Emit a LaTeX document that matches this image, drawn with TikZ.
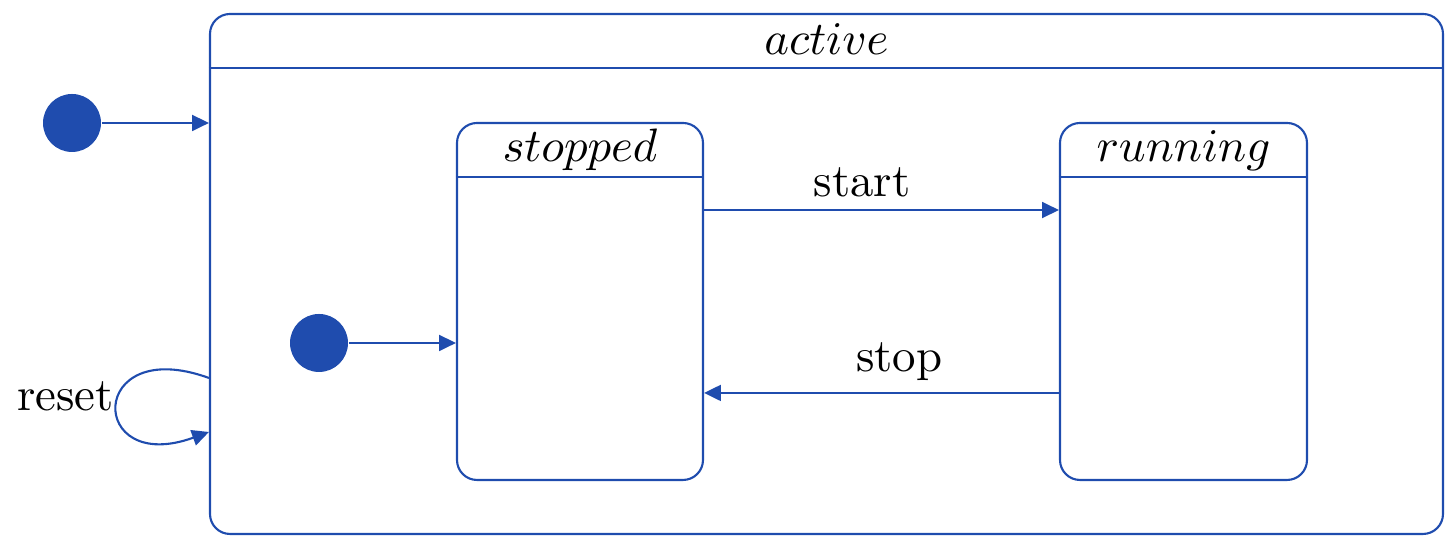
\documentclass[tikz,border=0pt]{standalone}
\usepackage{tikz}
\usetikzlibrary{arrows.meta,positioning}
\definecolor{stateblue}{RGB}{31,76,174}

\begin{document}
\begin{tikzpicture}[
  x=0.75cm, y=0.75cm,
  line width=0.45pt,
  state/.style={draw=stateblue, rounded corners=0.15cm, inner sep=0pt},
  title/.style={anchor=base, font=\normalsize},
  initial/.style={circle, fill=stateblue, minimum size=0.435cm, inner sep=0pt},
  trans/.style={-{Triangle[length=3.6pt,width=3.4pt]}, stateblue},
  lbl/.style={above, inner sep=2.5pt, text=black}
]
\useasboundingbox (0,0) rectangle (14.54,5.44);

% Outer composite state
\node[state, minimum width=9.2475cm, minimum height=3.9cm] (active) at (8.265,2.70) {};
\node[title] (activetitle) at ([yshift=-0.315cm]active.north) {$active$};
\draw[stateblue] ([yshift=-0.4125cm]active.north west) -- ([yshift=-0.4125cm]active.north east);

% Inner states
\node[state, minimum width=1.845cm, minimum height=2.6775cm] (stopped) at (5.80,2.425) {};
\node[title] (stoppedtitle) at ([yshift=-0.3cm]stopped.north) {$stopped$};
\draw[stateblue] ([yshift=-0.4125cm]stopped.north west) -- ([yshift=-0.4125cm]stopped.north east);

\node[state, minimum width=1.8525cm, minimum height=2.6775cm] (running) at (11.835,2.425) {};
\node[title] (runningtitle) at ([yshift=-0.3cm]running.north) {$running$};
\draw[stateblue] ([yshift=-0.4125cm]running.north west) -- ([yshift=-0.4125cm]running.north east);

% Initial pseudo states
\node[initial] (init) at (0.72,4.21) {};
\node[initial] (initinner) at (3.19,2.01) {};

\draw[trans] (init.east) -- (init.east -| active.west);
\draw[trans] (initinner.east) -- (initinner.east -| stopped.west);

% Transitions
\draw[trans] ([yshift=0.686cm]stopped.east) -- ([yshift=0.686cm]running.west)
  node[lbl, pos=0.445] (startlbl) {start};
\draw[trans] ([yshift=-0.686cm]running.west) -- ([yshift=-0.686cm]stopped.east)
  node[lbl, pos=0.45] (stoplbl) {stop};

% Self loop
\draw[trans] ([yshift=-0.78cm]active.west) .. controls +(160:1.3) and +(200:1.3) ..
  ([yshift=-1.185cm]active.west) node[left, inner sep=0.5pt, yshift=1.8pt, text=black, pos=0.5] (resetlbl) {reset};

\end{tikzpicture}
\end{document}
